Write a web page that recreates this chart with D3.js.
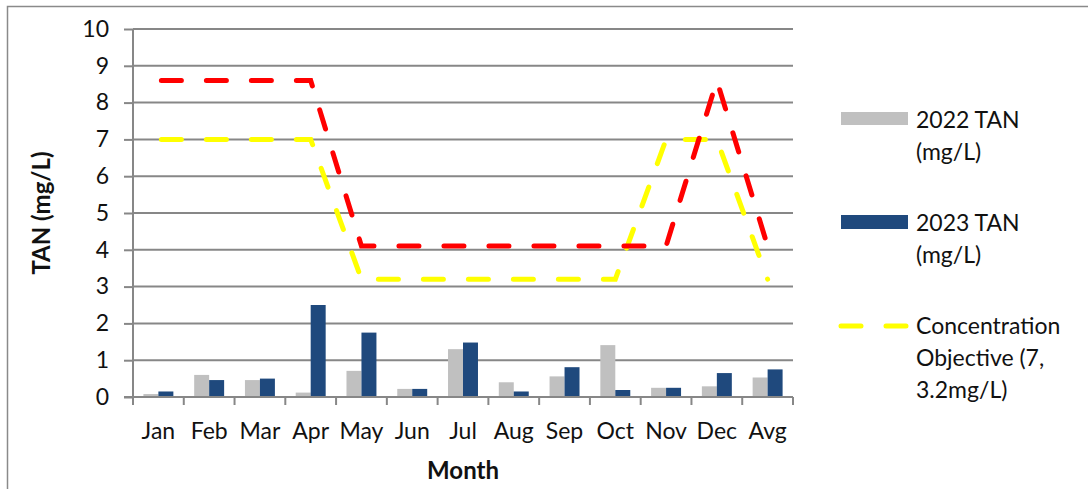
<!DOCTYPE html>
<html><head><meta charset="utf-8">
<script src="https://cdn.jsdelivr.net/npm/d3@7"></script>
<style>body{margin:0;background:#fff}svg{display:block}text{font-family:Lato,"Open Sans",sans-serif;fill:#111}</style>
</head><body><svg id="c" width="1088" height="489"></svg>
<script>
const months = ["Jan","Feb","Mar","Apr","May","Jun","Jul","Aug","Sep","Oct","Nov","Dec","Avg"];
const tan2022 = [0.08,0.6,0.46,0.12,0.71,0.22,1.3,0.4,0.56,1.41,0.25,0.29,0.53];
const tan2023 = [0.15,0.46,0.5,2.5,1.75,0.22,1.48,0.15,0.81,0.19,0.25,0.65,0.75];
const objective = [7,7,7,7,3.2,3.2,3.2,3.2,3.2,3.2,7,7,3.2];
const objectiveRed = [8.6,8.6,8.6,8.6,4.1,4.1,4.1,4.1,4.1,4.1,4.1,8.6,4.1];
const yTicks = [0,1,2,3,4,5,6,7,8,9,10];
const seriesNames = ["2022 TAN (mg/L)","2023 TAN (mg/L)"];

const svg = d3.select("#c");
const L=133, R=793, T=29, B=397;
const grid="#878787";
const FS=23;

// outer frame
svg.append("path").attr("d","M7.5,489 L7.5,6.5 L1088,6.5").attr("fill","none").attr("stroke","#8a8a8a").attr("stroke-width",1.5);

const x = d3.scaleBand().domain(months).range([L,R]).padding(0);
const y = d3.scaleLinear().domain([0,10]).range([B,T]);
const bw = x.bandwidth();
const x1 = d3.scaleBand().domain(seriesNames).range([bw*0.205,bw*0.795]).padding(0);

// gridlines
svg.append("g").selectAll("line").data(yTicks.filter(d=>d>0)).join("line")
  .attr("x1",L).attr("x2",R).attr("y1",d=>y(d)).attr("y2",d=>y(d))
  .attr("stroke",grid).attr("stroke-width",2);

// bars
const colors = ["#c0c0c0","#1f497d"];
const vals = [tan2022,tan2023];
seriesNames.forEach((s,si)=>{
  svg.append("g").selectAll("rect").data(months).join("rect")
    .attr("x",m=>x(m)+x1(s)).attr("width",x1.bandwidth())
    .attr("y",(m,i)=>y(vals[si][i])).attr("height",(m,i)=>B-y(vals[si][i]))
    .attr("fill",colors[si]);
});

// lines
const line = d3.line().x((d,i)=>x(months[i])+bw/2).y(d=>y(d));
svg.append("path").datum(objective).attr("d",line).attr("fill","none")
  .attr("stroke","#ffff00").attr("stroke-width",5).attr("stroke-linecap","round")
  .attr("stroke-dasharray","20,25").attr("stroke-dashoffset",-3);
svg.append("path").datum(objectiveRed).attr("d",line).attr("fill","none")
  .attr("stroke","#ff0000").attr("stroke-width",5).attr("stroke-linecap","round")
  .attr("stroke-dasharray","20,25").attr("stroke-dashoffset",-3);

// y axis
const ya = svg.append("g").attr("transform",`translate(${L},0)`)
  .call(d3.axisLeft(y).tickValues(yTicks).tickSize(9).tickPadding(15).tickFormat(d3.format("d")));
ya.select(".domain").attr("stroke",grid).attr("stroke-width",2).attr("d",`M0,${T}V${B}`);
ya.selectAll(".tick line").attr("stroke",grid).attr("stroke-width",2);
ya.selectAll(".tick text").attr("font-size",FS).attr("font-family","Lato").attr("fill","#111");

// x axis
const xa = svg.append("g").attr("transform",`translate(0,${B})`)
  .call(d3.axisBottom(x).tickSize(0).tickPadding(30));
xa.select(".domain").attr("stroke",grid).attr("stroke-width",2).attr("d",`M${L-9},0H${R}`);
xa.selectAll(".tick text").attr("font-size",FS).attr("font-family","Lato").attr("fill","#111").attr("dy","0");
svg.append("g").selectAll("line").data(months.concat(["_end"])).join("line")
  .attr("x1",(m,i)=>L+i*bw).attr("x2",(m,i)=>L+i*bw).attr("y1",B).attr("y2",B+8)
  .attr("stroke",grid).attr("stroke-width",2);
xa.selectAll(".tick text").attr("y",42);

// axis titles
svg.append("text").attr("x",(L+R)/2).attr("y",479).attr("text-anchor","middle")
  .attr("font-size",24).attr("font-weight","bold").text("Month");
svg.append("text").attr("transform","translate(50,213) rotate(-90)").attr("text-anchor","middle")
  .attr("font-size",24).attr("font-weight","bold").text("TAN (mg/L)");

// legend
const lg = svg.append("g");
lg.append("rect").attr("x",841).attr("y",112).attr("width",67).attr("height",13).attr("fill",colors[0]);
lg.append("rect").attr("x",841).attr("y",215).attr("width",67).attr("height",14).attr("fill",colors[1]);
lg.append("line").attr("x1",841).attr("x2",907).attr("y1",326).attr("y2",326)
  .attr("stroke","#ffff00").attr("stroke-width",5).attr("stroke-linecap","round").attr("stroke-dasharray","20,25");
const legText = [["2022 TAN","(mg/L)"],["2023 TAN","(mg/L)"],["Concentration","Objective (7,","3.2mg/L)"]];
const legY = [128,231,334];
legText.forEach((lines,i)=>{
  const t = lg.append("text").attr("x",916).attr("y",legY[i]).attr("font-size",FS);
  lines.forEach((s,j)=>t.append("tspan").attr("x",916).attr("dy",j?32:0).text(s));
});
</script></body></html>
